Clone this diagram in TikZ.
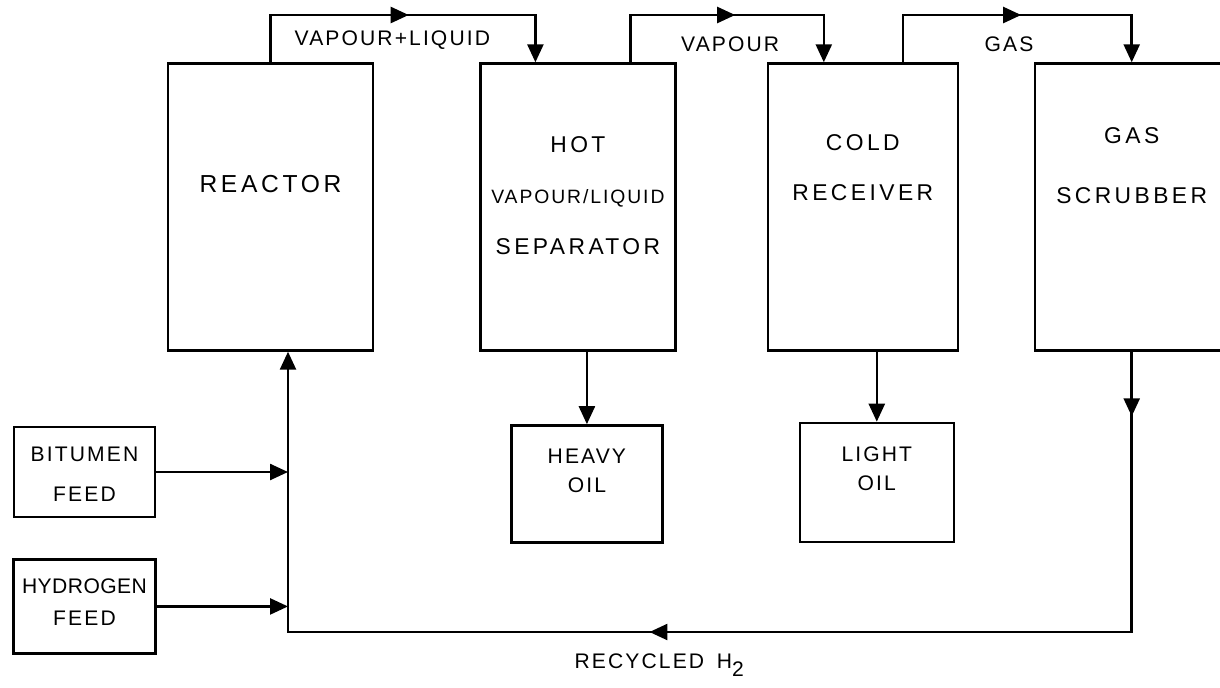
\documentclass[tikz,border=0pt]{standalone}
\usepackage{fontspec}
\newfontfamily\lettering[LetterSpace=10]{Liberation Sans}
\newfontfamily\widelettering[LetterSpace=15]{Liberation Sans}
\newfontfamily\narrowlettering[LetterSpace=2]{Liberation Sans}
\usetikzlibrary{arrows.meta,positioning,decorations.markings}

\begin{document}
\begin{tikzpicture}[
    x=0.02cm, y=-0.02cm,
    >={Triangle[length=0.36cm, width=0.32cm]},
    unit/.style={draw, line width=1.4pt, inner sep=0pt, minimum height=5.74cm},
    product/.style={draw, line width=1.4pt, inner sep=0pt},
    big/.style={font=\widelettering\fontsize{13}{#1}\selectfont, align=center},
    big/.default=29,
    small/.style={font=\lettering\fontsize{12}{#1}\selectfont, align=center},
    small/.default=16,
    arr/.style={->, line width=1.4pt},
    midarr/.style={postaction={decorate}, decoration={markings, mark=at position #1 with {\arrow{>}}}}
]
    \useasboundingbox (0,0) rectangle (1220,687);

    % process units
    \node[unit, minimum width=4.1cm] (reactor) at (270.5,207) {};
    \node[unit, minimum width=3.9cm, right=2.1cm of reactor] (hot) {};
    \node[unit, minimum width=3.8cm, right=1.8cm of hot] (cold) {};
    \node[unit, minimum width=3.86cm, right=1.5cm of cold] (scrub) {};

    \node[big, font=\widelettering\fontsize{14}{29}\selectfont] (reactor-t) at ([yshift=-2.44cm]reactor.north) {REACTOR};
    \node[big] (hot-t) at ([yshift=-2.66cm]hot.north) {HOT\\{\lettering\fontsize{11}{29}\selectfont VAPOUR/LIQUID}\\SEPARATOR};
    \node[big=28.5] (cold-t) at ([yshift=-2.1cm]cold.north) {COLD\\RECEIVER};
    \node[big=34] (scrub-t) at ([yshift=-2.06cm]scrub.north) {GAS\\SCRUBBER};

    % products and feeds
    \node[product, minimum width=3.02cm, minimum height=2.34cm, below=1.45cm of hot, xshift=0.18cm] (heavy) {};
    \node[product, minimum width=3.08cm, minimum height=2.38cm, below=1.4cm of cold, xshift=0.28cm] (light) {};
    \node[product, minimum width=2.82cm, minimum height=1.8cm] (bitumen) at (84.5,472) {};
    \node[product, minimum width=2.84cm, minimum height=1.88cm, below=0.8cm of bitumen] (hydrogen) {};

    \node[small=16.5] (heavy-t) at ([yshift=-0.93cm]heavy.north) {HEAVY\\OIL};
    \node[small=16] (light-t) at ([yshift=-0.94cm]light.north) {LIGHT\\OIL};
    \node[small=22.8] (bitumen-t) at ([yshift=-0.96cm]bitumen.north) {BITUMEN\\FEED};
    \node[small, font=\narrowlettering\fontsize{12}{18.2}\selectfont] (hydrogen-t) at ([yshift=-0.88cm]hydrogen.north) {HYDROGEN\\{\lettering FEED}};

    \coordinate (top) at (0,15);
    \coordinate (lc) at (288,632);

    % overhead streams
    \draw[arr, midarr=0.516] (reactor.north) -- (reactor.north |- top)
        -| node[small, pos=0.23, yshift=-0.5cm] (vl) {VAPOUR+LIQUID} ([xshift=-0.85cm]hot.north);
    \draw[arr, midarr=0.528] ([xshift=1.05cm]hot.north) -- ([xshift=1.05cm]hot.north |- top)
        -| node[small, pos=0.258, yshift=-0.58cm] (vap) {VAPOUR} ([xshift=-0.78cm]cold.north);
    \draw[arr, midarr=0.512] ([xshift=0.8cm]cold.north) -- ([xshift=0.8cm]cold.north |- top)
        -| node[small, pos=0.232, yshift=-0.58cm] (gas) {GAS} (scrub.north);

    % bottoms
    \draw[arr] (heavy.north |- hot.south) -- (heavy.north);
    \draw[arr] (light.north |- cold.south) -- (light.north);

    % recycle loop
    \draw[arr, postaction={decorate}, decoration={markings,
            mark=at position 0.046 with {\arrow{>}},
            mark=at position 0.543 with {\arrow{>}}}]
        (scrub.south) |- node[small, pos=0.78, yshift=-0.66cm] (rec) {RECYCLED\hspace{0.6em}H\raisebox{-0.7ex}{2}} (lc)
        -- (reactor.south -| lc);
    \draw[arr] (bitumen.east) -- (bitumen.east -| lc);
    \draw[arr] (hydrogen.east) -- (hydrogen.east -| lc);
\end{tikzpicture}
\end{document}
